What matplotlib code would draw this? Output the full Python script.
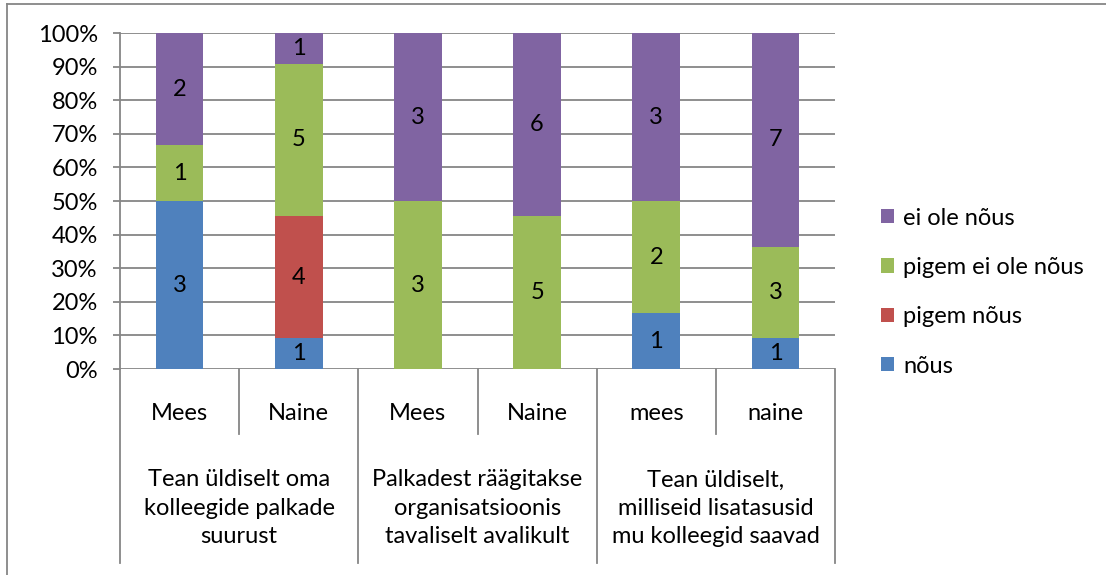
import matplotlib
matplotlib.use("Agg")
import matplotlib.pyplot as plt
import matplotlib.transforms as mtransforms
from matplotlib.patches import Patch
from matplotlib.lines import Line2D
import numpy as np

FS = 17
plt.rcParams["font.family"] = ["Lato", "DejaVu Sans"]
plt.rcParams["font.size"] = FS

# ---------------------------------------------------------------------------
# Data (counts per answer)
# ---------------------------------------------------------------------------
sub_labels = ["Mees", "Naine", "Mees", "Naine", "mees", "naine"]
group_labels = [
    "Tean üldiselt oma\nkolleegide palkade\nsuurust",
    "Palkadest räägitakse\norganisatsioonis\ntavaliselt avalikult",
    "Tean üldiselt,\nmilliseid lisatasusid\nmu kolleegid saavad",
]
series_names = ["nõus", "pigem nõus", "pigem ei ole nõus", "ei ole nõus"]
nous = [3, 1, 0, 0, 1, 1]
pigem_nous = [0, 4, 0, 0, 0, 0]
pigem_ei_ole = [1, 5, 3, 5, 2, 3]
ei_ole = [2, 1, 3, 6, 3, 7]

COLORS = ["#4F81BD", "#C0504D", "#9BBB59", "#8064A2"]
GRID = "#868686"

counts = np.array([nous, pigem_nous, pigem_ei_ole, ei_ole], dtype=float)
shares = counts / counts.sum(axis=0) * 100

fig = plt.figure(figsize=(11.06, 5.75), dpi=100)
ax = fig.add_axes([120 / 1106, 1 - 369 / 575, 715 / 1106, 336 / 575])

x = np.arange(len(sub_labels))
bottom = np.zeros(len(sub_labels))
for i, name in enumerate(series_names):
    ax.bar(x, shares[i], 0.4, bottom=bottom, color=COLORS[i], label=name, zorder=3)
    for xi, c, s, b in zip(x, counts[i], shares[i], bottom):
        if c > 0:
            ax.text(xi, b + s / 2, f"{int(c)}", ha="center", va="center",
                    fontsize=FS, zorder=4)
    bottom += shares[i]

ax.set_xlim(-0.5, len(sub_labels) - 0.5)
ax.set_ylim(0, 100)
ax.set_yticks(np.arange(0, 101, 10))
ax.set_yticklabels([f"{v}%" for v in range(0, 101, 10)])
ax.yaxis.grid(True, color=GRID, linewidth=1.3, zorder=0)
ax.tick_params(axis="y", length=5, width=1.3, color=GRID, pad=11, labelsize=FS)
ax.set_xticks([])
for side in ["top", "right", "bottom"]:
    ax.spines[side].set_visible(False)
ax.spines["left"].set_color(GRID)
ax.spines["left"].set_linewidth(1.3)

# Multi-level category axis
trans = mtransforms.blended_transform_factory(ax.transData, ax.transAxes)
for k in range(len(sub_labels) + 1):
    xb = k - 0.5
    y_end = -0.577 if k % 2 == 0 else -0.193
    ax.add_line(Line2D([xb, xb], [0, y_end], transform=trans, color=GRID,
                       linewidth=1.3, clip_on=False))
for xi, lab in zip(x, sub_labels):
    ax.text(xi, -0.131, lab, transform=trans, ha="center", va="center", fontsize=FS)
for g, lab in enumerate(group_labels):
    ax.text(2 * g + 0.5, -0.414, lab, transform=trans, ha="center", va="center",
            fontsize=FS, linespacing=1.42)

# Legend
handles = [Patch(facecolor=COLORS[i], label=series_names[i]) for i in range(3, -1, -1)]
fig.legend(handles=handles, loc="upper left", bbox_to_anchor=(864 / 1106, 1 - 191 / 575),
           frameon=False, handlelength=0.55, handleheight=0.55, handletextpad=0.4,
           labelspacing=1.2, fontsize=FS, borderpad=0.2)

# Outer chart border (left and top edges visible)
fig.add_artist(Line2D([7 / 1106, 7 / 1106], [0, 1 - 4 / 575], color=GRID, linewidth=1.3))
fig.add_artist(Line2D([7 / 1106, 1], [1 - 4 / 575, 1 - 4 / 575], color=GRID, linewidth=1.3))

fig.savefig("out.png", dpi=100)
